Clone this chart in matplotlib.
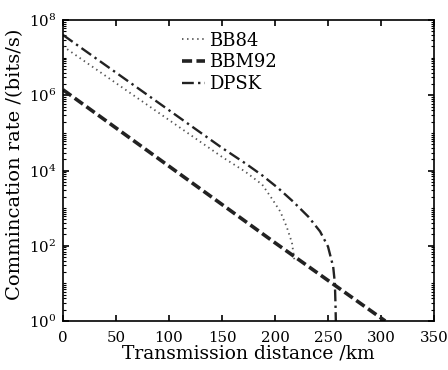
import matplotlib
matplotlib.use("Agg")
import matplotlib.pyplot as plt
from matplotlib.ticker import LogLocator, FixedLocator, NullFormatter

plt.rcParams['font.family'] = ['DejaVu Serif']
plt.rcParams['mathtext.fontset'] = 'dejavuserif'

# Distances (km) and key rates (bits/s)
bb84_d = [0, 50, 100, 150, 172, 188, 197, 205, 211, 216, 218.5]
bb84_r = [2.0e7, 2.1e6, 2.2e5, 2.3e4, 9.3e3, 4.2e3, 1.8e3, 8.1e2, 3.2e2, 1.2e2, 3.8e1]

bbm92_d = [0, 50, 100, 150, 200, 250, 304]
bbm92_r = [1.4e6, 1.35e5, 1.3e4, 1.25e3, 1.2e2, 1.2e1, 1.0]

dpsk_d = [0, 50, 100, 150, 172, 188, 203, 217, 231.5, 242.5, 250, 254.9, 256.5, 257.1, 257.4]
dpsk_r = [4e7, 4e6, 4e5, 4e4, 1.55e4, 7.4e3, 3.4e3, 1.5e3, 5.9e2, 2.4e2, 9.5e1, 2.75e1, 1.0e1, 2.5, 1.0]

x_ticks = [0, 50, 100, 150, 200, 250, 300, 350]
y_ticks = [1e0, 1e2, 1e4, 1e6, 1e8]
y_ticklabels = [r'$10^{0}$', r'$10^{2}$', r'$10^{4}$', r'$10^{6}$', r'$10^{8}$']

fig = plt.figure(figsize=(4.48, 3.70), dpi=100)
ax = fig.add_axes([63 / 448, 49 / 370, (434 - 63) / 448, 301 / 370])

ax.plot(bb84_d, bb84_r, linestyle=(0, (0.8, 2.0)), color='#555555', lw=1.3, label='BB84')
ax.plot(bbm92_d, bbm92_r, linestyle=(0, (2.8, 1.2)), color='#222222', lw=2.6, label='BBM92')
ax.plot(dpsk_d, dpsk_r, linestyle=(0, (5, 1.8, 1, 1.8)), color='#222222', lw=1.7, label='DPSK')

ax.set_yscale('log')
ax.set_xlim(0, 350)
ax.set_ylim(1e0, 1e8)
ax.xaxis.set_major_locator(FixedLocator(x_ticks))
ax.set_xticklabels([str(t) for t in x_ticks])
ax.yaxis.set_major_locator(FixedLocator(y_ticks))
ax.set_yticklabels(y_ticklabels)
ax.yaxis.set_minor_locator(LogLocator(base=10, subs=range(1, 10), numticks=100))
ax.yaxis.set_minor_formatter(NullFormatter())

ax.tick_params(axis='both', which='both', direction='in', top=True, right=True,
               labelsize=10.8, colors='black')
ax.tick_params(axis='both', which='major', length=4, width=1.2, pad=5)
ax.tick_params(axis='x', which='major', pad=7)
ax.tick_params(axis='y', which='minor', length=2.5, width=0.8)
for s in ax.spines.values():
    s.set_linewidth(1.2)

ax.set_xlabel('Transmission distance /km', fontsize=13.5, labelpad=0)
ax.set_ylabel('Commincation rate /(bits/s)', fontsize=14)
ax.yaxis.set_label_coords(-0.105, 0.52)

leg = ax.legend(loc='upper left', bbox_to_anchor=(0.30, 0.985), frameon=False,
                fontsize=13, handlelength=1.3, handletextpad=0.2, labelspacing=0.2,
                borderaxespad=0)

fig.savefig('out.png', dpi=100)
